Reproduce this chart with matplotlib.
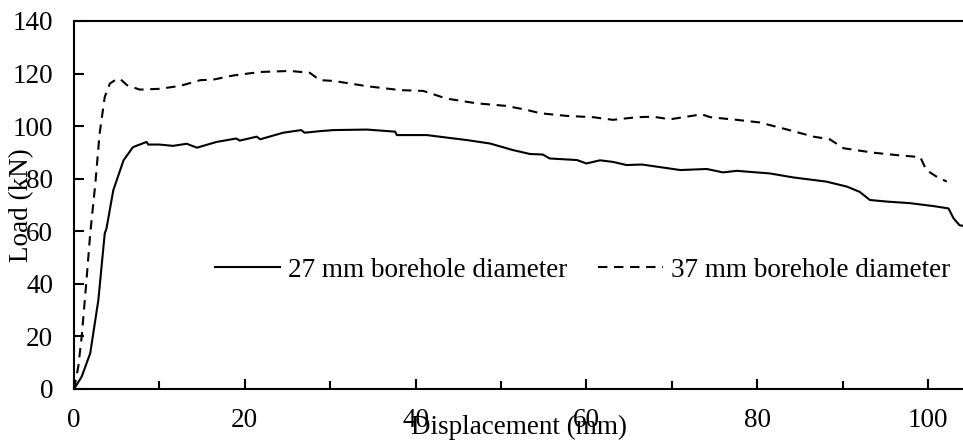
import matplotlib
matplotlib.use("Agg")
import matplotlib.pyplot as plt
from matplotlib.ticker import MultipleLocator

plt.rcParams["font.family"] = ["Liberation Serif", "DejaVu Serif"]
plt.rcParams["font.size"] = 19.5

# load-displacement curves
disp_27 = [0, 0.9, 1.9, 2.85, 3.6, 3.8, 4.6, 5.8, 6.9, 8.5, 8.7, 10, 11.6, 13.2, 14.4,
           16.7, 19.0, 19.4, 21.4, 21.8, 24.5, 26.6, 27.0, 28.8, 30.4, 34.3, 37.6,
           37.8, 41.3, 46.0, 48.7, 51.4, 53.4, 54.9, 55.7, 58.9, 60.0, 61.6, 63.1,
           64.7, 66.5, 71.0, 74.1, 76.0, 77.6, 81.5, 84.2, 88.1, 90.5, 92.0, 93.2,
           95.2, 97.9, 100.6, 102.4, 103.0, 103.7, 104.2]
load_27 = [0, 4.7, 13.6, 33.8, 59.2, 61, 75.6, 87, 92, 94, 93, 93, 92.5, 93.3, 91.8,
           94, 95.3, 94.5, 96, 95, 97.5, 98.5, 97.5, 98.1, 98.5, 98.7, 97.9,
           96.6, 96.6, 94.7, 93.4, 90.9, 89.4, 89.2, 87.7, 87.1, 85.8, 87, 86.4,
           85.2, 85.4, 83.3, 83.7, 82.4, 83, 82, 80.5, 78.9, 77, 75, 71.9,
           71.3, 70.7, 69.6, 68.7, 64.9, 62.3, 62]

disp_37 = [0, 0.5, 0.9, 1.4, 1.9, 2.5, 3.0, 3.6, 4.2, 4.8, 5.4, 6.2, 7.7, 10, 12.4,
           14.8, 16.3, 18.7, 21.8, 25.3, 27.6, 28.8, 30.4, 34.3, 38.2, 40.9, 43.6,
           47.1, 50.6, 53.0, 54.6, 57.7, 60.8, 63.1, 65.9, 67.8, 69.8, 73.5, 74.5,
           77.6, 80.3, 83.4, 86.6, 88.5, 90.1, 93.6, 96.3, 99.1, 99.8, 101.0, 102.2]
load_37 = [0, 8.5, 19.9, 38.9, 59.2, 78.2, 97.2, 111.1, 116.2, 117.5, 118, 115.6, 113.9,
           114.2, 115.3, 117.5, 117.7, 119.3, 120.6, 121, 120.3, 117.5, 117.2, 115.2,
           113.7, 113.4, 110.5, 108.7, 107.7, 106.2, 104.9, 103.9, 103.4, 102.4, 103.4,
           103.6, 102.6, 104.5, 103.4, 102.4, 101.4, 98.8, 96, 95, 91.6, 89.9, 89,
           88.2, 83.3, 80.8, 78.9]

series_labels = ["27 mm borehole diameter", "37 mm borehole diameter"]

fig = plt.figure(figsize=(9.63, 4.45), dpi=100)
ax = fig.add_axes([74 / 963, 56 / 445, 889 / 963, 368 / 445])

ax.plot(disp_27, load_27, color="black", linewidth=1.5, label=series_labels[0])
ax.plot(disp_37, load_37, color="black", linewidth=1.5, linestyle=(0, (4.5, 3.2)),
        label=series_labels[1])

ax.set_xlim(0, 104.1)
ax.set_ylim(0, 140)
ax.xaxis.set_major_locator(MultipleLocator(20))
ax.xaxis.set_minor_locator(MultipleLocator(10))
ax.yaxis.set_major_locator(MultipleLocator(20))
ax.tick_params(axis="both", which="both", direction="in", width=1.5)
ax.tick_params(axis="x", which="major", length=7, pad=14)
ax.tick_params(axis="x", which="minor", length=6)
ax.tick_params(axis="y", which="major", length=7, pad=15)
ax.spines["right"].set_visible(False)
for side in ("left", "bottom", "top"):
    ax.spines[side].set_linewidth(1.5)

ax.set_xlabel("Displacement (mm)")
ax.set_ylabel("Load (kN)")
ax.xaxis.set_label_coords(0.5, -0.07)
ax.yaxis.set_label_coords(-0.045, 0.5)

ax.legend(loc="center left", bbox_to_anchor=(0.159, 0.323), ncol=2, frameon=False,
          borderpad=0, borderaxespad=0, handlelength=2.4, handletextpad=0.3,
          columnspacing=1.1)

fig.savefig("out.png", dpi=100)
